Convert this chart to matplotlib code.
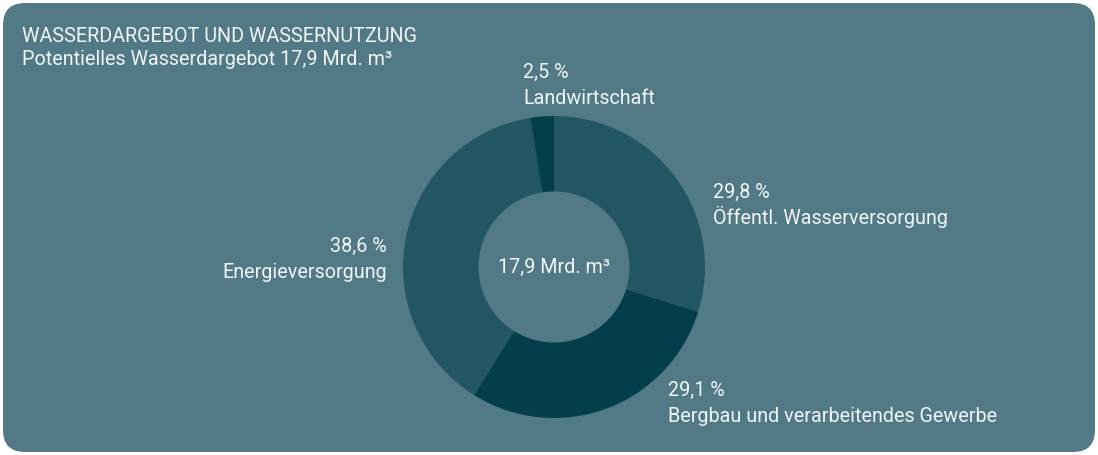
import matplotlib
matplotlib.use("Agg")
import matplotlib.pyplot as plt
from matplotlib.patches import FancyBboxPatch

W, H = 1098, 455

title = "WASSERDARGEBOT UND WASSERNUTZUNG"
subtitle = "Potentielles Wasserdargebot 17,9 Mrd. m³"
center_label = "17,9 Mrd. m³"

categories = ["Öffentl. Wasserversorgung", "Bergbau und verarbeitendes Gewerbe",
              "Energieversorgung", "Landwirtschaft"]
values = [29.8, 29.1, 38.6, 2.5]
pct_labels = ["29,8 %", "29,1 %", "38,6 %", "2,5 %"]
colors = ["#235664", "#043E4D", "#235664", "#043E4D"]

BG = "#517A86"
TXT = "#F2F5F5"

plt.rcParams['font.family'] = ['Roboto', 'DejaVu Sans']

fig = plt.figure(figsize=(W / 100, H / 100), dpi=100)
fig.patch.set_facecolor("white")
ax = fig.add_axes([0, 0, 1, 1])

ax.add_patch(FancyBboxPatch((3 + 22, 3 + 22), W - 6 - 44, H - 6 - 44,
                            boxstyle="round,pad=22", facecolor=BG, edgecolor="none", zorder=0))

cx, cy, R = 554, H - 267, 151
ax.pie(values, colors=colors, startangle=90, counterclock=False,
       center=(cx, cy), radius=R, frame=True,
       wedgeprops=dict(width=R - 75.5, edgecolor="none", linewidth=0))
ax.set_xlim(0, W)
ax.set_ylim(0, H)
ax.set_aspect("equal", adjustable="box")
ax.axis("off")

fs = 14.2
ax.text(22, H - 42, title, color=TXT, fontsize=fs, ha="left", va="baseline")
ax.text(22, H - 65, subtitle, color=TXT, fontsize=fs, ha="left", va="baseline")
ax.text(cx, cy, center_label, color=TXT, fontsize=fs, ha="center", va="center")

# label positions (pixels, top-origin baselines)
label_pos = [(713, 198, "left"), (668, 396, "left"), (387, 252, "right"), (523, 78, "left")]
for (x, yb, ha), pct, cat in zip(label_pos, pct_labels, categories):
    ax.text(x, H - yb, pct, color=TXT, fontsize=fs, ha=ha, va="baseline")
    ax.text(x, H - yb - 25.5, cat, color=TXT, fontsize=fs, ha=ha, va="baseline")

fig.savefig("out.png", dpi=100, facecolor=fig.get_facecolor())
